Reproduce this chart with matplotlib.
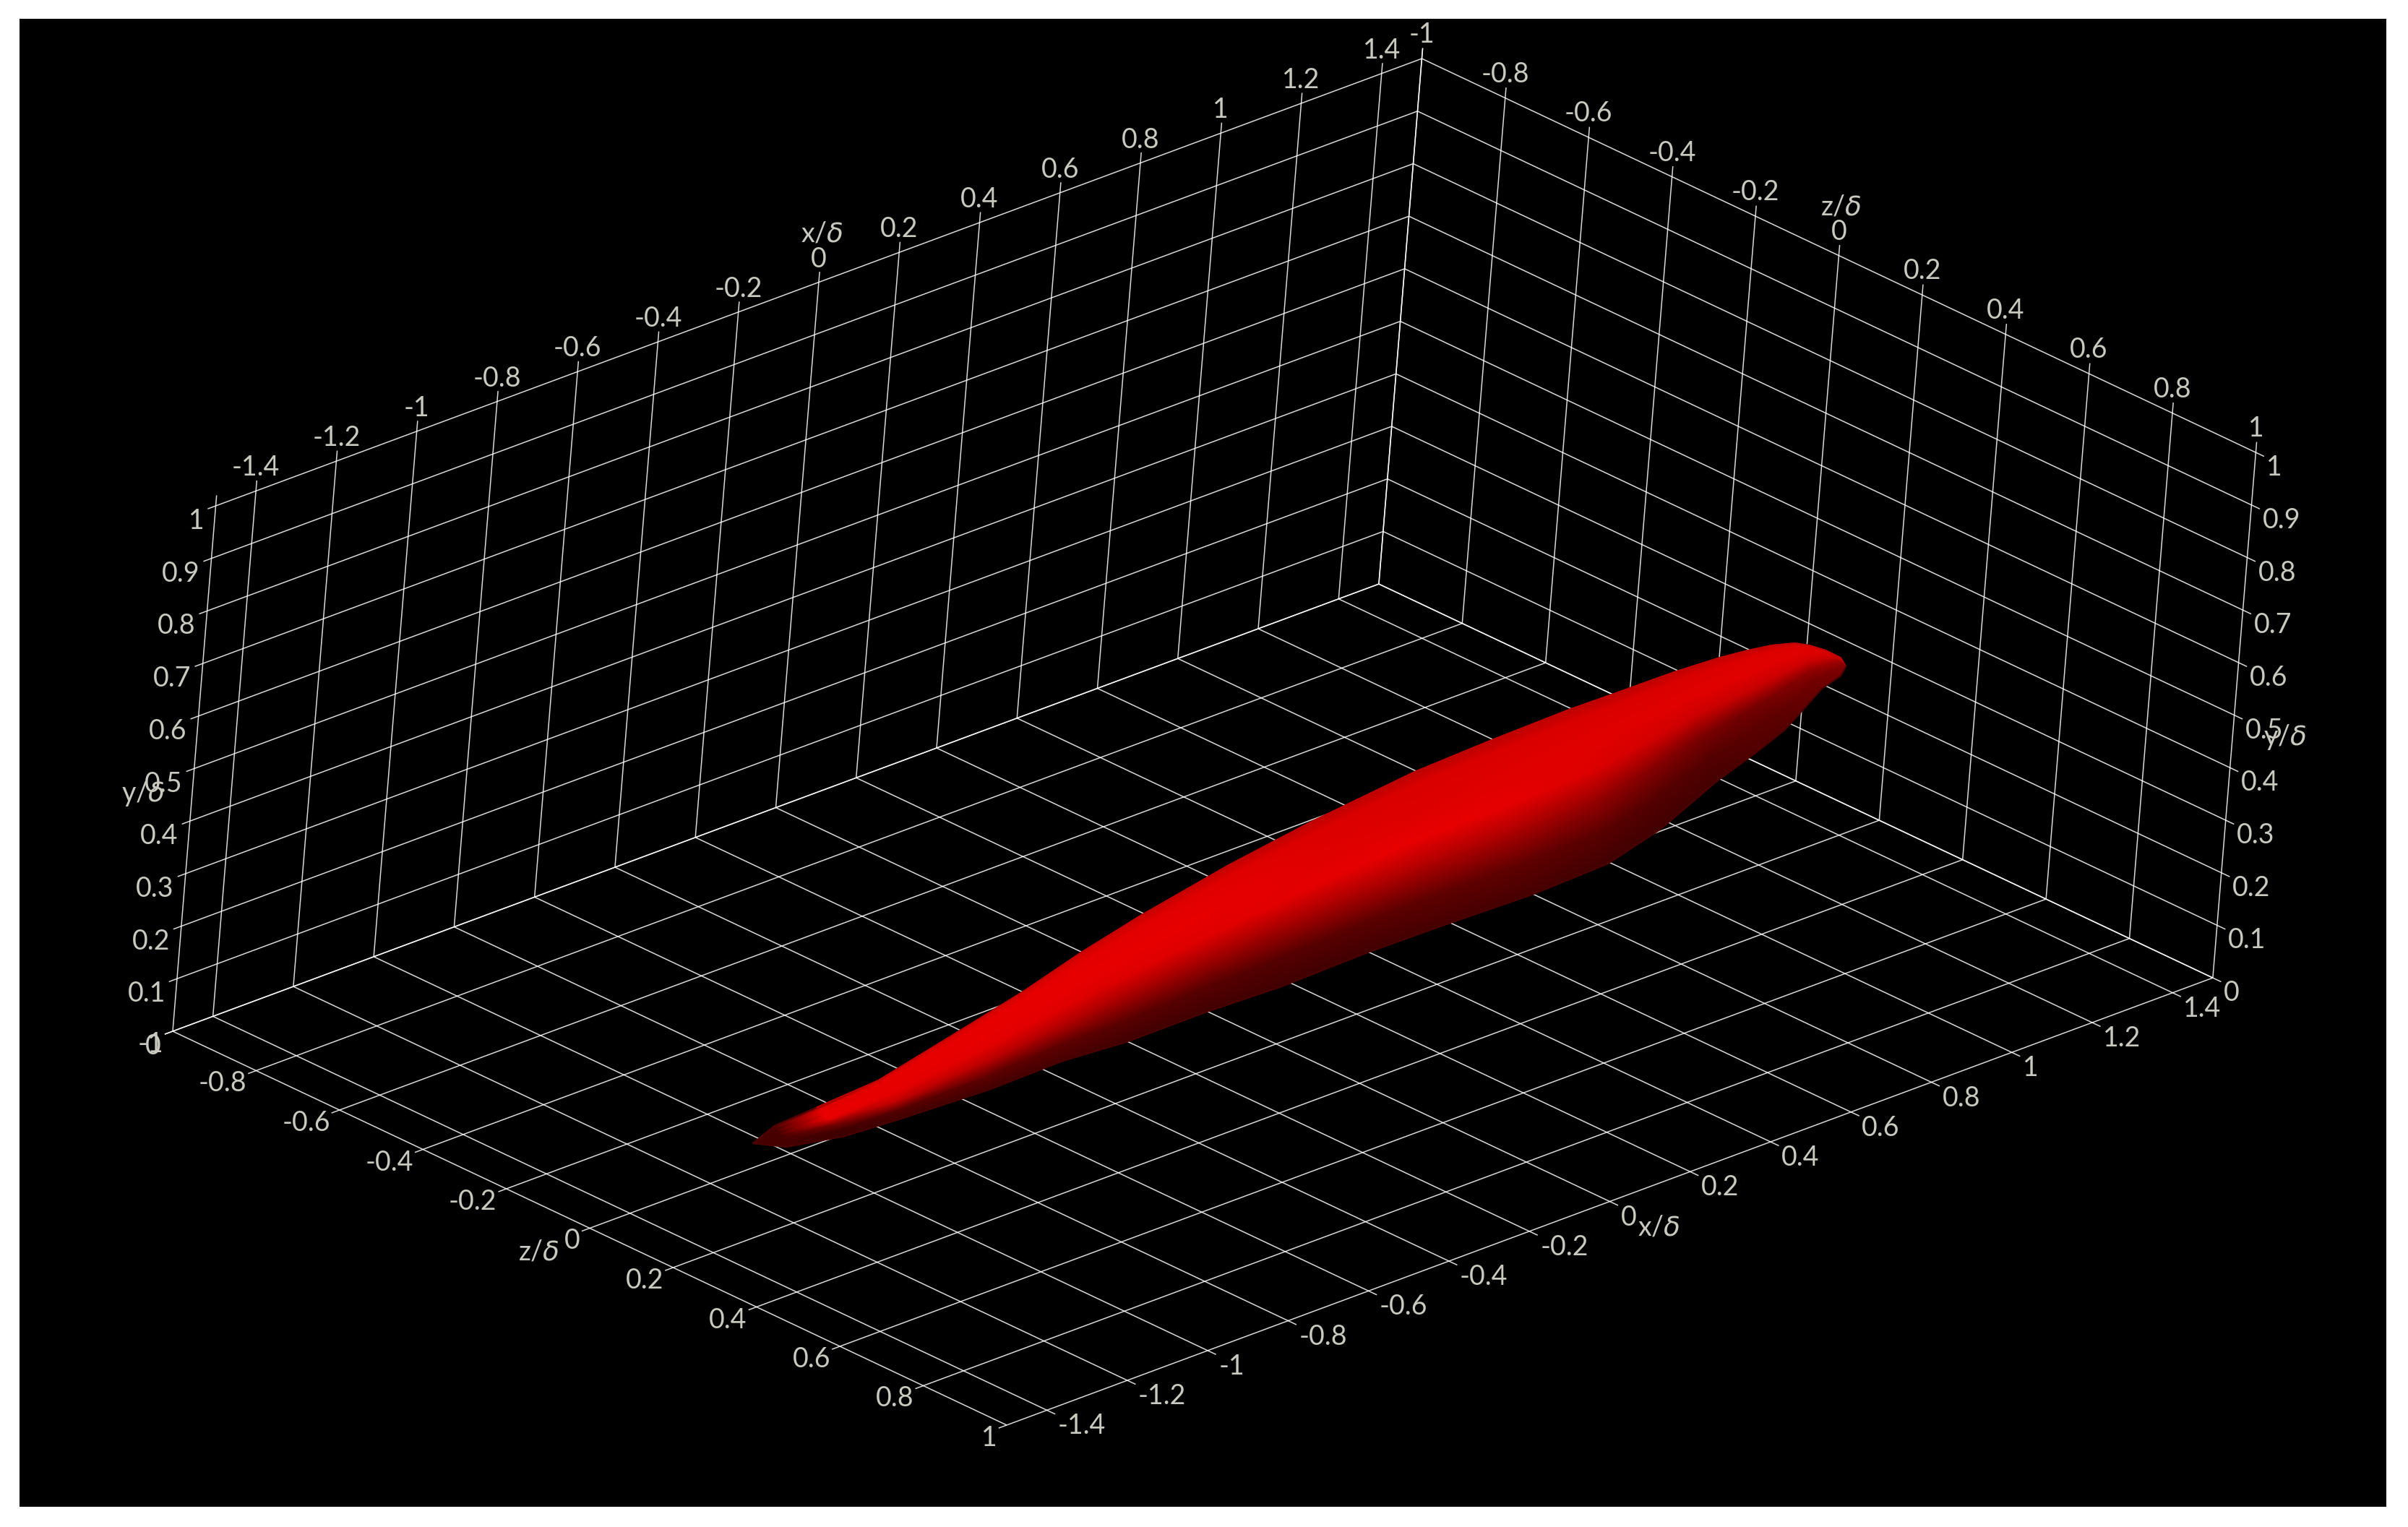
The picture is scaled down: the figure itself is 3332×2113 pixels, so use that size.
import numpy as np
import matplotlib
matplotlib.use("Agg")
from matplotlib import pyplot as plt
from matplotlib.colors import LinearSegmentedColormap

# Axis ticks
x_ticks = [-1.4, -1.2, -1, -0.8, -0.6, -0.4, -0.2, 0, 0.2, 0.4, 0.6, 0.8, 1, 1.2, 1.4]
z_ticks = [-1, -0.8, -0.6, -0.4, -0.2, 0, 0.2, 0.4, 0.6, 0.8, 1]
y_ticks = [0, 0.1, 0.2, 0.3, 0.4, 0.5, 0.6, 0.7, 0.8, 0.9, 1]
x_lim = [-1.5, 1.5]
z_lim = [-1, 1]

# Blob outline, upper and lower silhouette, projected on the y=0 plane
x_up = [-1.022, -0.941, -0.830, -0.662, -0.404, -0.202, -0.002, 0.189, 0.462, 0.705, 0.996,
        1.193, 1.394, 1.494, 1.652, 1.758, 1.818, 1.867, 1.905, 1.919, 1.927, 1.926]
z_up = [-0.069, -0.096, -0.104, -0.116, -0.171, -0.215, -0.266, -0.308, -0.359, -0.395, -0.428,
        -0.437, -0.442, -0.440, -0.438, -0.431, -0.422, -0.411, -0.393, -0.371, -0.339, -0.303]
x_low = [-1.022, -0.986, -0.873, -0.738, -0.532, -0.348, -0.205, -0.003, 0.172, 0.397, 0.595,
         0.796, 0.994, 1.167, 1.393, 1.526, 1.635, 1.720, 1.808, 1.873, 1.908, 1.908]
z_low = [-0.069, -0.024, 0.007, 0.017, 0.027, 0.023, 0.036, 0.035, 0.042, 0.036, 0.039,
         0.045, 0.037, -0.005, -0.084, -0.122, -0.157, -0.195, -0.235, -0.252, -0.273, -0.273]

# Position across the blob and red level at each station
across = [0, 0.08, 0.25, 0.42, 0.6, 0.8, 1]
red_level = [
    [70, 70, 70, 70, 70, 70, 70],
    [80, 75, 70, 70, 70, 70, 70],
    [110, 225, 235, 230, 120, 65, 60],
    [210, 230, 232, 228, 190, 85, 65],
    [210, 230, 232, 226, 185, 95, 65],
    [210, 230, 232, 224, 178, 95, 70],
    [205, 228, 232, 220, 165, 90, 65],
    [200, 226, 232, 222, 160, 88, 65],
    [195, 224, 230, 226, 160, 85, 65],
    [190, 220, 224, 230, 168, 90, 65],
    [188, 218, 222, 232, 172, 95, 70],
    [188, 218, 224, 230, 168, 95, 70],
    [188, 218, 226, 222, 152, 90, 65],
    [188, 218, 226, 214, 138, 85, 65],
    [192, 218, 226, 205, 122, 85, 70],
    [195, 220, 226, 200, 115, 90, 80],
    [195, 222, 226, 200, 120, 95, 85],
    [198, 222, 224, 205, 130, 105, 95],
    [200, 222, 224, 205, 145, 115, 105],
    [205, 222, 222, 205, 160, 125, 115],
    [205, 215, 215, 200, 170, 140, 130],
    [200, 205, 205, 190, 170, 150, 140],
]

W, H = 3332, 2113
text_col = "#c9c9c0"
plt.rcParams["font.family"] = ["Lato", "DejaVu Sans"]
plt.rcParams["mathtext.fontset"] = "dejavusans"


# Parallel projection of the box into image pixels
def project(x, y, z):
    x = np.asarray(x, dtype=float)
    y = np.asarray(y, dtype=float)
    z = np.asarray(z, dtype=float)
    a = x - x_lim[0]
    b = z - z_lim[0]
    px = 239 + 556.3 * a + 577 * b + 59.5 * y
    py = 1427 - 206.3 * a + 272.5 * b - 727 * y
    return px, py


def grid_line(p0, p1):
    xs = [p0[0], p1[0]]
    ys = [p0[1], p1[1]]
    zs = [p0[2], p1[2]]
    px, py = project(xs, ys, zs)
    ax.plot(px, py, color="white", lw=1.1, alpha=0.85, solid_capstyle="butt", zorder=1)


def label(p, txt, dx, dy, ha="center", size=27):
    px, py = project(*p)
    ax.text(px + dx, py + dy, txt, color=text_col, fontsize=size, ha=ha, va="center", zorder=4)


def fmt(v):
    return "%g" % v


fig = plt.figure(figsize=(W / 100, H / 100), dpi=100, facecolor="white")
ax = fig.add_axes([27 / W, 1 - 2085 / H, (3302 - 27) / W, (2085 - 26) / H], facecolor="black")
ax.set_xlim(27, 3302)
ax.set_ylim(2085, 26)
ax.set_xticks([])
ax.set_yticks([])
for s in ax.spines.values():
    s.set_visible(False)

ext = 0.02

# Back wall z=-1
for x in [x_lim[0]] + x_ticks + [x_lim[1]]:
    grid_line((x, 0, -1), (x, 1 + ext, -1))
for y in y_ticks:
    grid_line((x_lim[0] - ext, y, -1), (x_lim[1], y, -1))

# Back wall x=max
for z in z_ticks:
    grid_line((x_lim[1], 0, z), (x_lim[1], 1 + ext, z))
for y in y_ticks:
    grid_line((x_lim[1], y, -1), (x_lim[1], y, 1 + ext))

# Floor
for x in x_ticks:
    grid_line((x, 0, -1), (x, 0, 1 + ext))
grid_line((x_lim[0], 0, -1), (x_lim[0], 0, 1))
grid_line((x_lim[1], 0, -1), (x_lim[1], 0, 1))
for z in z_ticks:
    grid_line((x_lim[0] - ext, 0, z), (x_lim[1], 0, z))

# Blob
ux, uy = project(x_up, 0, z_up)
lx, ly = project(x_low, 0, z_low)
t = np.array(across)[None, :]
mesh_x = ux[:, None] + (lx - ux)[:, None] * t
mesh_y = uy[:, None] + (ly - uy)[:, None] * t
reds = LinearSegmentedColormap.from_list("reds_k", ["black", "#ff0000"])
ax.fill(np.r_[ux, lx[::-1]], np.r_[uy, ly[::-1]], color="#7a0000", lw=1.5, zorder=2)
ax.pcolormesh(mesh_x, mesh_y, np.array(red_level), shading="gouraud", cmap=reds,
              vmin=0, vmax=255, zorder=3, rasterized=True)
ax.plot(ux[2:], uy[2:], color="#c00000", lw=1.2, zorder=3.5)
ax.plot(ux[:3], uy[:3], color="#500000", lw=1.2, zorder=3.5)
ax.plot(lx, ly, color="#4a0000", lw=1.2, zorder=3.5)

# Tick labels
for x in x_ticks:
    label((x, 1, -1), fmt(x), 0, -32)
    label((x, 0, 1), fmt(x), 15, 22, ha="left")
for z in z_ticks:
    label((x_lim[1], 1, z), fmt(z), 0, -33)
    label((x_lim[0], 0, z), fmt(z), -13, 18, ha="right")
for y in y_ticks:
    label((x_lim[0], y, -1), fmt(y), -16, 21, ha="right")
    label((x_lim[1], y, 1), fmt(y), 15, 21, ha="left")

# Axis titles
label((0, 1, -1), "x/$\\delta$", 4, -67)
label((x_lim[1], 1, 0), "z/$\\delta$", 3, -67)
label((0, 0, 1), "x/$\\delta$", 68, 36)
label((x_lim[0], 0, 0), "z/$\\delta$", -70, 33)
label((x_lim[0], 0.5, -1), "y/$\\delta$", -71, 35)
label((x_lim[1], 0.5, 1), "y/$\\delta$", 70, 30)

fig.savefig("out.png", dpi=100, facecolor="white")
